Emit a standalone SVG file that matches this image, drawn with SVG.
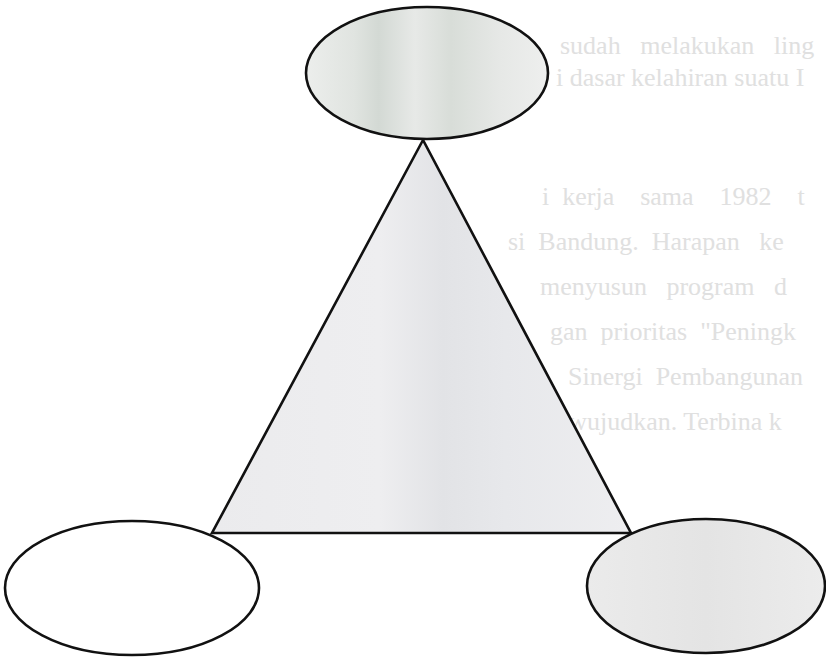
<svg xmlns="http://www.w3.org/2000/svg" width="826" height="657" viewBox="0 0 826 657">
<style>
.ghost{font-family:"Liberation Serif","Times New Roman",serif;font-size:26px;fill:#e0e0e0;}
.shape{stroke:#111;stroke-width:2.6;}
</style>
<defs>
<linearGradient id="gTop" x1="0" y1="0" x2="1" y2="0">
<stop offset="0" stop-color="#eceeec"/>
<stop offset="0.2" stop-color="#e0e4e0"/>
<stop offset="0.3" stop-color="#d3d9d4"/>
<stop offset="0.45" stop-color="#e7e9e7"/>
<stop offset="0.6" stop-color="#d8ddd8"/>
<stop offset="0.8" stop-color="#e6e8e6"/>
<stop offset="1" stop-color="#eeefee"/>
</linearGradient>
<linearGradient id="gTri" x1="0" y1="0" x2="1" y2="0">
<stop offset="0" stop-color="#ebebed"/>
<stop offset="0.4" stop-color="#eeeef0"/>
<stop offset="0.55" stop-color="#e2e3e6"/>
<stop offset="0.7" stop-color="#e7e8eb"/>
<stop offset="1" stop-color="#eeeef0"/>
</linearGradient>
<linearGradient id="gRight" x1="0" y1="0" x2="1" y2="0">
<stop offset="0" stop-color="#ebebeb"/>
<stop offset="0.5" stop-color="#e4e4e4"/>
<stop offset="1" stop-color="#ececec"/>
</linearGradient>
</defs>
<rect width="826" height="657" fill="#ffffff"/>
<g id="ghost-text">
<text class="ghost" x="560" y="54" xml:space="preserve">sudah   melakukan   ling</text>
<text class="ghost" x="556" y="86">i dasar kelahiran suatu I</text>
<text class="ghost" x="542" y="205" xml:space="preserve">i  kerja    sama    1982    t</text>
<text class="ghost" x="508" y="250" xml:space="preserve">si  Bandung.  Harapan   ke</text>
<text class="ghost" x="540" y="295" xml:space="preserve">menyusun   program   d</text>
<text class="ghost" x="550" y="340" xml:space="preserve">gan  prioritas  "Peningk</text>
<text class="ghost" x="568" y="385" xml:space="preserve">Sinergi  Pembangunan</text>
<text class="ghost" x="548" y="430">diwujudkan. Terbina k</text>
</g>
<g id="connectors"></g>
<g id="triangle">
<polygon class="shape" points="423,140 212,533 631,533" fill="url(#gTri)" stroke-linejoin="miter"/>
</g>
<g id="node-top">
<ellipse class="shape" cx="427" cy="73" rx="121" ry="66" fill="url(#gTop)"/>
</g>
<g id="node-left">
<ellipse class="shape" cx="132" cy="588" rx="127" ry="67" fill="#ffffff"/>
</g>
<g id="node-right">
<ellipse class="shape" cx="706" cy="586" rx="119" ry="67" fill="url(#gRight)"/>
</g>
</svg>
